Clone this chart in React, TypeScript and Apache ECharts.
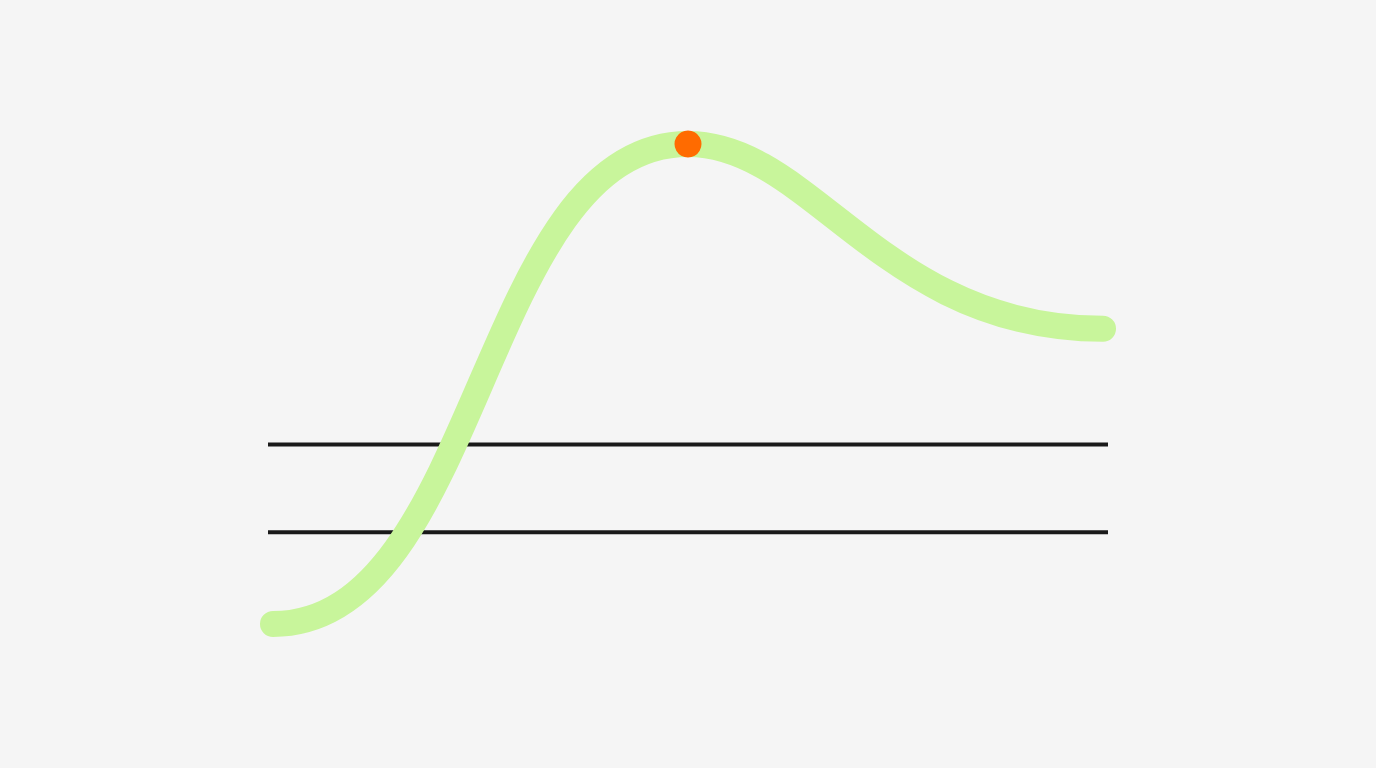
import { useEffect, useRef } from "react";
import * as echarts from "echarts";

// anchor points of the curve: start, peak, end (position 0..100, height 0..100)
const anchorX = [0, 50, 100];
const anchorY = [0, 100, 61.5];

// the marked peak
const peakPoint: [number, number] = [50, 100];

// the two flat reference levels
const levels = [37.4, 19.1];

const X_MIN = -0.6;
const X_MAX = 100.6;

// horizontal handle lengths of each curve piece, as a share of the piece's width
const HANDLE_OUT = [0.5, 0.3];
const HANDLE_IN = [0.5, 0.53];

export default function App() {
  const containerRef = useRef<HTMLDivElement | null>(null);

  useEffect(() => {
    if (!containerRef.current) return;
    const chart = echarts.init(containerRef.current, undefined, { renderer: "svg" });

    const anchors = anchorX.map((x, i) => [x, anchorY[i]]);

    chart.setOption({
      animation: false,
      backgroundColor: "#f5f5f5",
      grid: { left: 268, right: 268, top: 144, bottom: 144 },
      xAxis: { type: "value", min: X_MIN, max: X_MAX, show: false },
      yAxis: { type: "value", min: 0, max: 100, show: false },
      series: [
        ...levels.map((v) => ({
          type: "line",
          data: [
            [X_MIN, v],
            [X_MAX, v],
          ],
          showSymbol: false,
          silent: true,
          z: 1,
          lineStyle: { color: "#1a1a1a", width: 4, cap: "butt" },
        })),
        {
          // each piece leaves and reaches its anchors flat, like the reference curve
          type: "custom",
          data: anchors,
          clip: false,
          silent: true,
          z: 2,
          renderItem: (params: any, api: any) => {
            const i = params.dataIndex;
            if (i >= anchors.length - 1) return null;
            const a = api.coord(anchors[i]);
            const b = api.coord(anchors[i + 1]);
            const dx = b[0] - a[0];
            return {
              type: "bezierCurve",
              shape: {
                x1: a[0],
                y1: a[1],
                cpx1: a[0] + dx * HANDLE_OUT[i],
                cpy1: a[1],
                cpx2: b[0] - dx * HANDLE_IN[i],
                cpy2: b[1],
                x2: b[0],
                y2: b[1],
              },
              style: { stroke: "#c8f59b", lineWidth: 26, lineCap: "round", fill: null },
            };
          },
        },
        {
          type: "scatter",
          data: [peakPoint],
          symbolSize: 27,
          z: 3,
          itemStyle: { color: "#ff6b00", opacity: 1 },
        },
      ],
    });

    const handleResize = () => chart.resize();
    window.addEventListener("resize", handleResize);
    return () => {
      window.removeEventListener("resize", handleResize);
      chart.dispose();
    };
  }, []);

  return (
    <div
      ref={containerRef}
      style={{ position: "fixed", left: 0, top: 0, width: "100vw", height: "100vh", background: "#f5f5f5" }}
    />
  );
}
